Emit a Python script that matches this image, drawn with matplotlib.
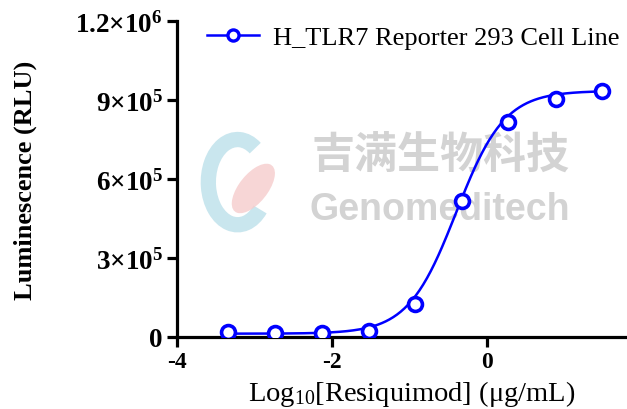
import numpy as np
import matplotlib
matplotlib.use("Agg")
import matplotlib.pyplot as plt
from matplotlib.patches import Arc, Ellipse

plt.rcParams['font.family'] = ['Liberation Serif', 'DejaVu Sans']
plt.rcParams['mathtext.fontset'] = 'custom'
plt.rcParams['mathtext.rm'] = 'Liberation Serif'
plt.rcParams['mathtext.bf'] = 'Liberation Serif:bold'
plt.rcParams['mathtext.it'] = 'Liberation Serif:italic'

# datos: log10 de la concentración (diluciones 1:4 desde 30 ug/mL)
log_conc = [-3.34, -2.74, -2.13, -1.53, -0.93, -0.33, 0.27, 0.88, 1.48]
rlu = [17000, 15000, 13000, 22000, 123000, 515000, 815000, 903000, 935000]

# parámetros del ajuste logístico de 4 parámetros
bottom = 12000
top = 935000
log_ec50 = -0.40
hill = 1.40

serie = "H_TLR7 Reporter 293 Cell Line"
yticks = [0, 3e5, 6e5, 9e5, 1.2e6]
ytick_labels = [r'$\mathbf{0}$', r'$\mathbf{3{\times}10^5}$', r'$\mathbf{6{\times}10^5}$',
                r'$\mathbf{9{\times}10^5}$', r'$\mathbf{1.2{\times}10^6}$']
xticks = [-4, -2, 0]

fig = plt.figure(figsize=(6.27, 4.1), dpi=100)
ax = fig.add_axes([0.282, 0.176, 0.718, 0.77])

# marca de agua
ax.text(0.585, 0.58, "吉满生物科技", transform=ax.transAxes, ha='center', va='center',
        fontsize=31, fontweight='bold', color='#d3d3d3', family=['Noto Sans CJK SC'], zorder=0)
ax.text(0.585, 0.405, "Genomeditech", transform=ax.transAxes, ha='center', va='center',
        fontsize=27, fontweight='bold', color='#d3d3d3', family=['Liberation Sans'], zorder=0)
ax.add_patch(Arc((0.135, 0.49), 0.13, 0.27, angle=0, theta1=70, theta2=300,
                 transform=ax.transAxes, color='#c9e6ee', lw=11, zorder=0))
ax.add_patch(Ellipse((0.17, 0.47), 0.07, 0.17, angle=-25, transform=ax.transAxes,
                     color='#f6cccc', alpha=0.8, lw=0, zorder=0))

xp = np.linspace(log_conc[0], log_conc[-1], 300)
yp = bottom + (top - bottom) / (1 + 10 ** ((log_ec50 - xp) * hill))
ax.plot(xp, yp, color='#0000ff', lw=1.8, zorder=3)
ax.plot(log_conc, rlu, 'o', color='#0000ff', mfc='white', ms=10, mew=2.6, zorder=4)
ax.plot([], [], '-o', color='#0000ff', mfc='white', ms=8, mew=2.4, lw=1.8, label=serie)

ax.set_xlim(-4, 1.8)
ax.set_ylim(0, 1.2e6)
ax.set_xticks(xticks)
ax.set_xticklabels([str(t) for t in xticks], fontweight='bold', fontsize=17)
ax.set_yticks(yticks)
ax.set_yticklabels(ytick_labels, fontsize=19.5)

for s in ['top', 'right']:
    ax.spines[s].set_visible(False)
for s in ['left', 'bottom']:
    ax.spines[s].set_linewidth(2.3)
ax.tick_params(width=2.3, length=7, direction='out', pad=3)

ax.set_ylabel("Luminescence (RLU)", fontsize=19, fontweight='bold')
ax.yaxis.set_label_coords(-0.31, 0.5)
ax.set_xlabel(r"Log$_{10}$[Resiquimod] (μg/mL)", fontsize=20.5)
ax.xaxis.set_label_coords(0.522, -0.13)

ax.legend(loc='upper right', bbox_to_anchor=(1.035, 1.06), frameon=False, fontsize=19,
          handlelength=2.0, handletextpad=0.5)

fig.savefig("out.png", dpi=100)
